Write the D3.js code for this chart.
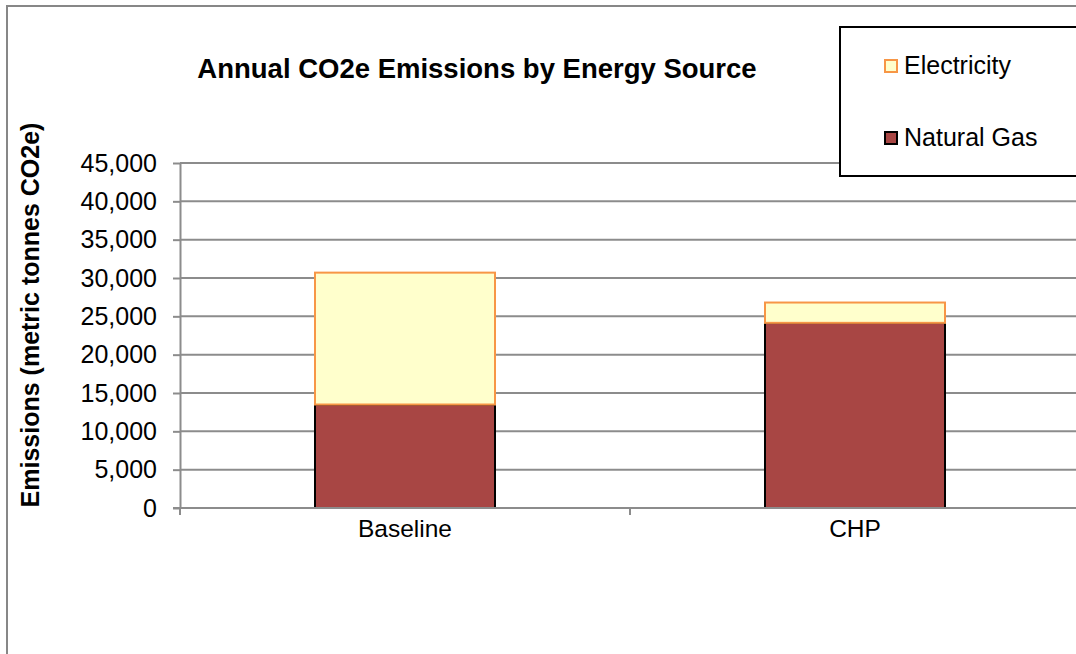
<!DOCTYPE html>
<html>
<head>
<meta charset="utf-8">
<script src="https://cdn.jsdelivr.net/npm/d3@7"></script>
<style>
  body { margin: 0; background: #fff; }
  svg { display: block; font-family: "Liberation Sans", Arial, sans-serif; }
</style>
</head>
<body>
<svg id="chart" width="1076" height="654"></svg>
<script>
// chart data
const categories = ["Baseline", "CHP"];
const seriesNames = ["Natural Gas", "Electricity"];
const naturalGas = [13500, 24150];
const electricity = [17200, 2650];
const yTicks = [0, 5000, 10000, 15000, 20000, 25000, 30000, 35000, 40000, 45000];

const width = 1076, height = 654;
const marginTop = 163, marginLeft = 180, plotBottom = 508, plotRight = 1080;

const colors = { "Natural Gas": "#a84644", "Electricity": "#ffffcc" };
const strokes = { "Natural Gas": "#000000", "Electricity": "#f79646" };

const svg = d3.select("#chart");

// outer chart border (cut by the window on right and bottom)
svg.append("rect")
    .attr("x", 7).attr("y", 6)
    .attr("width", 1200).attr("height", 800)
    .attr("fill", "#fff")
    .attr("stroke", "#878787")
    .attr("stroke-width", 2);

// scales
const x = d3.scaleBand()
    .domain(categories)
    .range([marginLeft, plotRight])
    .paddingInner(0.6)
    .paddingOuter(0.3);

const y = d3.scaleLinear()
    .domain([0, 45000])
    .range([plotBottom, marginTop]);

// gridlines
svg.append("g")
    .selectAll("line")
    .data(yTicks.filter(d => d > 0))
    .join("line")
    .attr("x1", marginLeft).attr("x2", width)
    .attr("y1", d => y(d)).attr("y2", d => y(d))
    .attr("stroke", "#8c8c8c")
    .attr("stroke-width", 2);

// stacked bars
const rows = categories.map((c, i) => ({ cat: c, "Natural Gas": naturalGas[i], "Electricity": electricity[i] }));
const stacked = d3.stack().keys(seriesNames)(rows);

svg.append("g")
    .selectAll("g")
    .data(stacked)
    .join("g")
    .attr("fill", d => colors[d.key])
    .attr("stroke", d => strokes[d.key])
    .attr("stroke-width", 2)
    .selectAll("rect")
    .data(d => d)
    .join("rect")
    .attr("x", d => x(d.data.cat))
    .attr("width", x.bandwidth())
    .attr("y", d => y(d[1]))
    .attr("height", d => y(d[0]) - y(d[1]));

// y axis
const yAxis = svg.append("g")
    .attr("transform", `translate(${marginLeft},0)`)
    .call(d3.axisLeft(y).tickValues(yTicks).tickFormat(d3.format(",")).tickSize(7).tickSizeOuter(0).tickPadding(16));
yAxis.select(".domain").attr("stroke", "#8c8c8c").attr("stroke-width", 2);
yAxis.selectAll(".tick line").attr("stroke", "#8c8c8c").attr("stroke-width", 2);
yAxis.selectAll(".tick text")
    .attr("fill", "#000")
    .style("font-size", "25px")
    .style("font-family", "'Liberation Sans', Arial, sans-serif");

// x axis: line, boundary ticks, category labels
const step = x.step();
const x0 = marginLeft;
const boundaries = d3.range(categories.length + 1).map(i => x0 + i * step);
const xAxis = svg.append("g");
xAxis.append("line")
    .attr("x1", marginLeft - 7).attr("x2", width)
    .attr("y1", plotBottom).attr("y2", plotBottom)
    .attr("stroke", "#8c8c8c").attr("stroke-width", 2);
xAxis.selectAll(".btick")
    .data(boundaries)
    .join("line")
    .attr("class", "btick")
    .attr("x1", d => d).attr("x2", d => d)
    .attr("y1", plotBottom).attr("y2", plotBottom + 7)
    .attr("stroke", "#8c8c8c").attr("stroke-width", 2);
xAxis.selectAll(".clabel")
    .data(categories)
    .join("text")
    .attr("class", "clabel")
    .attr("x", d => x(d) + x.bandwidth() / 2)
    .attr("y", 537)
    .attr("text-anchor", "middle")
    .style("font-size", "24.5px")
    .text(d => d);

// title
svg.append("text")
    .attr("x", 477).attr("y", 78)
    .attr("text-anchor", "middle")
    .style("font-size", "27.5px")
    .style("font-weight", "bold")
    .text("Annual CO2e Emissions by Energy Source");

// y axis title
svg.append("text")
    .attr("transform", "translate(39,315) rotate(-90)")
    .attr("text-anchor", "middle")
    .style("font-size", "25px")
    .style("font-weight", "bold")
    .text("Emissions (metric tonnes CO2e)");

// legend
const legend = svg.append("g");
legend.append("rect")
    .attr("x", 840).attr("y", 27)
    .attr("width", 300).attr("height", 149)
    .attr("fill", "#fff")
    .attr("stroke", "#000")
    .attr("stroke-width", 2);

const legendItems = ["Electricity", "Natural Gas"];
const legendY = d3.scalePoint().domain(legendItems).range([66, 138]);

legend.selectAll(".sw")
    .data(legendItems)
    .join("rect")
    .attr("class", "sw")
    .attr("x", 885).attr("y", d => legendY(d) - 6)
    .attr("width", 12).attr("height", 12)
    .attr("fill", d => colors[d])
    .attr("stroke", d => strokes[d])
    .attr("stroke-width", 2);

legend.selectAll(".lt")
    .data(legendItems)
    .join("text")
    .attr("class", "lt")
    .attr("x", 904).attr("y", d => legendY(d) + 8)
    .style("font-size", "25px")
    .text(d => d);
</script>
</body>
</html>
